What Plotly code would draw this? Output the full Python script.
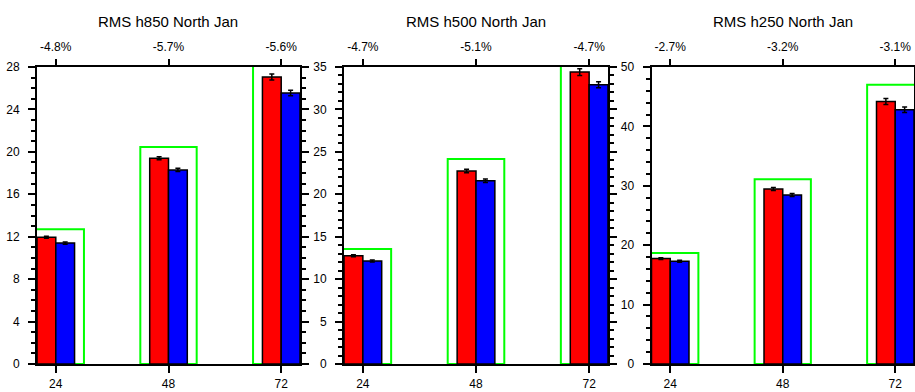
import plotly.graph_objects as go

leads = [24, 48, 72]
titles = ["RMS h850 North Jan", "RMS h500 North Jan", "RMS h250 North Jan"]
red_vals = [[11.95, 19.4, 27.05], [12.75, 22.75, 34.4], [17.75, 29.45, 44.2]]
blue_vals = [[11.4, 18.3, 25.55], [12.15, 21.6, 32.9], [17.3, 28.45, 42.8]]
green_vals = [[12.7, 20.45, 29.0], [13.55, 24.15, 36.5], [18.7, 31.1, 47.0]]
red_err = [[0.1, 0.15, 0.28], [0.12, 0.2, 0.4], [0.15, 0.25, 0.5]]
blue_err = [[0.1, 0.15, 0.25], [0.12, 0.2, 0.35], [0.15, 0.25, 0.45]]
pct_labels = [["-4.8%", "-5.7%", "-5.6%"],
              ["-4.7%", "-5.1%", "-4.7%"],
              ["-2.7%", "-3.2%", "-3.1%"]]
y_max = [28, 35, 50]
y_dtick = [4, 5, 10]
y_minor = [1, 1, 2]

W, H = 915, 392
panel_px = [(37, 300), (344, 608), (651.5, 914)]
top_px, bot_px = 67, 364
ydom = [(H - bot_px) / H, (H - top_px) / H]
xrange = [20, 76]
FONT = "Liberation Sans, Arial, sans-serif"

fig = go.Figure()
layout = dict(template="none", width=W, height=H, margin=dict(l=0, r=0, t=0, b=0, autoexpand=False),
              paper_bgcolor="white", plot_bgcolor="white", showlegend=False,
              barmode="overlay", font=dict(family=FONT, size=12, color="black"))
annotations = []

for i in range(3):
    xa = "x" if i == 0 else f"x{i+1}"
    ya = "y" if i == 0 else f"y{i+1}"
    xt = f"x{i+4}"
    fig.add_trace(go.Bar(x=leads, y=green_vals[i], width=12, offset=-6,
                         marker=dict(color="rgba(0,0,0,0)", line=dict(color="#00ff00", width=2)),
                         xaxis=xa, yaxis=ya))
    fig.add_trace(go.Bar(x=leads, y=red_vals[i], width=4, offset=-4,
                         marker=dict(color="#ff0000", line=dict(color="black", width=1.5)),
                         error_y=dict(type="data", array=red_err[i], color="black", thickness=1.5, width=2.5),
                         xaxis=xa, yaxis=ya))
    fig.add_trace(go.Bar(x=leads, y=blue_vals[i], width=4, offset=0,
                         marker=dict(color="#0000ff", line=dict(color="black", width=1.5)),
                         error_y=dict(type="data", array=blue_err[i], color="black", thickness=1.5, width=2.5),
                         xaxis=xa, yaxis=ya))
    xd = [panel_px[i][0] / W, panel_px[i][1] / W]
    layout["xaxis" if i == 0 else f"xaxis{i+1}"] = dict(
        domain=xd, anchor=ya, range=xrange, tickvals=leads, ticktext=[str(v) for v in leads],
        showline=True, linecolor="black", linewidth=2, mirror=True, automargin=False,
        ticks="outside", ticklen=7, tickwidth=2, tickcolor="black",
        showgrid=False, zeroline=False, tickfont=dict(size=12), ticklabelstandoff=1)
    layout[f"xaxis{i+4}"] = dict(
        overlaying=xa, anchor=ya, side="top", range=xrange, tickvals=leads, ticktext=pct_labels[i],
        showline=False, ticks="outside", ticklen=7, tickwidth=2, tickcolor="black", automargin=False,
        showgrid=False, zeroline=False, tickfont=dict(size=12), ticklabelstandoff=3)
    layout["yaxis" if i == 0 else f"yaxis{i+1}"] = dict(
        domain=ydom, anchor=xa, range=[0, y_max[i]], dtick=y_dtick[i], tick0=0,
        showline=True, linecolor="black", linewidth=2, mirror="ticks", automargin=False,
        ticks="outside", ticklen=7, tickwidth=2, tickcolor="black",
        minor=dict(dtick=y_minor[i], tick0=0, ticks="outside", ticklen=4, tickwidth=1.5, tickcolor="black"),
        showgrid=False, zeroline=False, tickfont=dict(size=12), ticklabelstandoff=6)
    annotations.append(dict(text=titles[i], x=(xd[0] + xd[1]) / 2, y=(H - 21) / H,
                            xref="paper", yref="paper", showarrow=False,
                            font=dict(size=15, family=FONT), xanchor="center", yanchor="middle"))
    fig.add_trace(go.Scatter(x=[xrange[0]], y=[0], mode="markers", marker=dict(opacity=0),
                             xaxis=xt, yaxis=ya, hoverinfo="skip"))

layout["annotations"] = annotations
fig.update_layout(**layout)
fig.write_html("out.html")
